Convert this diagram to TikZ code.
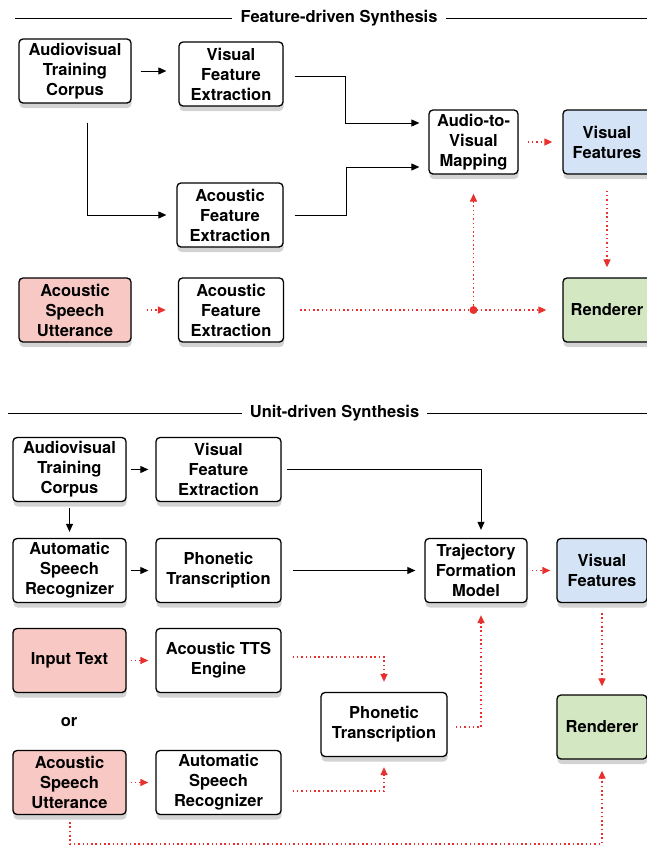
\documentclass[tikz,border=0pt]{standalone}
\usepackage{fontspec}
\setsansfont{TeX Gyre Heros}
\usetikzlibrary{arrows.meta, shadows, calc}
\definecolor{srcred}{RGB}{247,200,196}
\definecolor{featblue}{RGB}{212,228,246}
\definecolor{rendgreen}{RGB}{211,232,194}
\definecolor{flowred}{RGB}{232,48,46}

\begin{document}
\begin{tikzpicture}
	[x=1pt, y=-1pt,
	box/.style={draw, line width=1.3pt, rounded corners=4pt, fill=white, align=center, inner sep=0pt,
		minimum height=64pt, font=\sffamily\bfseries\fontsize{16.5}{20}\selectfont,
		drop shadow={shadow xshift=0.5pt, shadow yshift=-5pt, opacity=0.35}},
	srcbox/.style={box, fill=srcred},
	featbox/.style={box, fill=featblue},
	rendbox/.style={box, fill=rendgreen},
	headline/.style={font=\sffamily\bfseries\fontsize{16.5}{20}\selectfont, inner sep=0pt},
	flow/.style={-{Triangle[length=8pt, width=7pt]}, line width=0.9pt},
	rflow/.style={-{Triangle[length=8pt, width=7pt]}, color=flowred, line width=1.3pt, dash pattern=on 1.5pt off 2.8pt}]

	\useasboundingbox (0,0) rectangle (646,847);

	\node[headline] (ttitle) at (339,18) {Feature-driven Synthesis};
	\coordinate (ttl) at (15,18);
	\coordinate (ttr) at (650,18);
	\draw[line width=0.9pt] (ttl) -- ([xshift=-8pt]ttitle.west);
	\draw[line width=0.9pt] ([xshift=8pt]ttitle.east) -- (ttr);

	\node[box, minimum width=112pt] (tcorpus) at (75,71) {Audiovisual\\Training\\Corpus};
	\node[box, minimum width=104pt] (tvfe) at (231,74) {Visual\\Feature\\Extraction};
	\node[box, minimum width=106pt] (tafe) at (230,215) {Acoustic\\Feature\\Extraction};
	\node[box, minimum width=89pt] (tmap) at (473.5,142) {Audio-to-\\Visual\\Mapping};
	\node[featbox, minimum width=88pt] (tvf) at (607,142) {Visual\\Features};
	\node[srcbox, minimum width=112pt] (tutt) at (75,310) {Acoustic\\Speech\\Utterance};
	\node[box, minimum width=105pt] (tafe2) at (231,310) {Acoustic\\Feature\\Extraction};
	\node[rendbox, minimum width=88pt] (trend) at (607,310) {Renderer};
	\coordinate (tjoin) at (tmap.south |- tafe2.east);

	\begin{scope}[flow]
		\draw[shorten <=9pt, shorten >=12pt] (tcorpus.east) -- (tcorpus.east -| tvfe.west);
		\draw[shorten >=9pt] ([xshift=11pt,yshift=-2pt]tvfe.east) -| (345,123) -- ([yshift=19pt]tmap.west);
		\draw[shorten >=10pt] ([xshift=12pt,yshift=-19pt]tcorpus.south) |- (tafe.west);
		\draw[shorten >=9pt] ([xshift=11pt]tafe.east) -| (346,167) -- ([yshift=-25pt]tmap.west);
	\end{scope}
	\begin{scope}[rflow]
		\draw[shorten <=9pt, shorten >=10pt] (tmap) -- (tvf);
		\draw[shorten <=16pt, shorten >=10pt] (tvf) -- (trend);
		\draw[shorten <=15pt, shorten >=12pt] (tutt) -- (tafe2);
		\draw[shorten <=16pt, shorten >=16pt] (tafe2) -- (trend);
		\draw[shorten >=19pt] (tjoin) -- (tmap.south);
	\end{scope}
	\fill[flowred] (tjoin) circle (4pt);

	\node[headline] (btitle) at (334.5,413) {Unit-driven Synthesis};
	\coordinate (btl) at (8,413);
	\coordinate (btr) at (650,413);
	\draw[line width=0.9pt] (btl) -- ([xshift=-8pt]btitle.west);
	\draw[line width=0.9pt] ([xshift=8pt]btitle.east) -- (btr);

	\node[box, minimum width=113pt] (bcorpus) at (69.5,469.5) {Audiovisual\\Training\\Corpus};
	\node[box, minimum width=125pt] (bvfe) at (218.5,469.5) {Visual\\Feature\\Extraction};
	\node[box, minimum width=113pt] (basr) at (69.5,570.5) {Automatic\\Speech\\Recognizer};
	\node[box, minimum width=125pt] (bpt) at (218.5,570.5) {Phonetic\\Transcription};
	\node[box, minimum width=102pt] (btfm) at (476,570.5) {Trajectory\\Formation\\Model};
	\node[featbox, minimum width=90pt] (bvf) at (602,570.5) {Visual\\Features};
	\node[srcbox, minimum width=113pt] (btext) at (69.5,660.5) {Input Text};
	\node[box, minimum width=125pt] (btts) at (218.5,660.5) {Acoustic TTS\\Engine};
	\node[headline] (bor) at (69,722) {or};
	\node[box, minimum width=126pt] (bpt2) at (384,724.5) {Phonetic\\Transcription};
	\node[rendbox, minimum width=90pt] (brend) at (602,727) {Renderer};
	\node[srcbox, minimum width=113pt] (butt) at (69.5,782.5) {Acoustic\\Speech\\Utterance};
	\node[box, minimum width=125pt] (basr2) at (218.5,782.5) {Automatic\\Speech\\Recognizer};
	\coordinate (bbase) at (0,844);

	\begin{scope}[flow]
		\draw[shorten <=4pt, shorten >=7pt] (bcorpus) -- (bvfe);
		\draw ([xshift=5pt]bvfe.east) -| ([xshift=5pt,yshift=8pt]btfm.north);
		\draw[shorten <=6pt, shorten >=6pt] (bcorpus) -- (basr);
		\draw[shorten <=4pt, shorten >=7pt] (basr) -- (bpt);
		\draw[shorten <=11pt, shorten >=9pt] (bpt) -- (btfm);
	\end{scope}
	\begin{scope}[rflow]
		\draw[shorten <=4pt, shorten >=6pt] (btfm) -- (bvf);
		\draw[shorten <=10pt, shorten >=8pt] (bvf) -- (brend);
		\draw[shorten <=4pt, shorten >=7pt] (btext) -- (btts);
		\draw[shorten <=4pt, shorten >=7pt] (butt) -- (basr2);
		\draw ([xshift=11pt,yshift=3.5pt]btts.east) -| ([yshift=10pt]bpt2.north);
		\draw ([xshift=11pt,yshift=-8.5pt]basr2.east) -| ([yshift=-10pt]bpt2.south);
		\draw ([xshift=8pt,yshift=-2.5pt]bpt2.east) -| ([xshift=5pt,yshift=-12pt]btfm.south);
		\draw ([xshift=0.5pt,yshift=-7pt]butt.south) |- (bbase -| brend.south) -- ([yshift=-11pt]brend.south);
	\end{scope}
\end{tikzpicture}
\end{document}
